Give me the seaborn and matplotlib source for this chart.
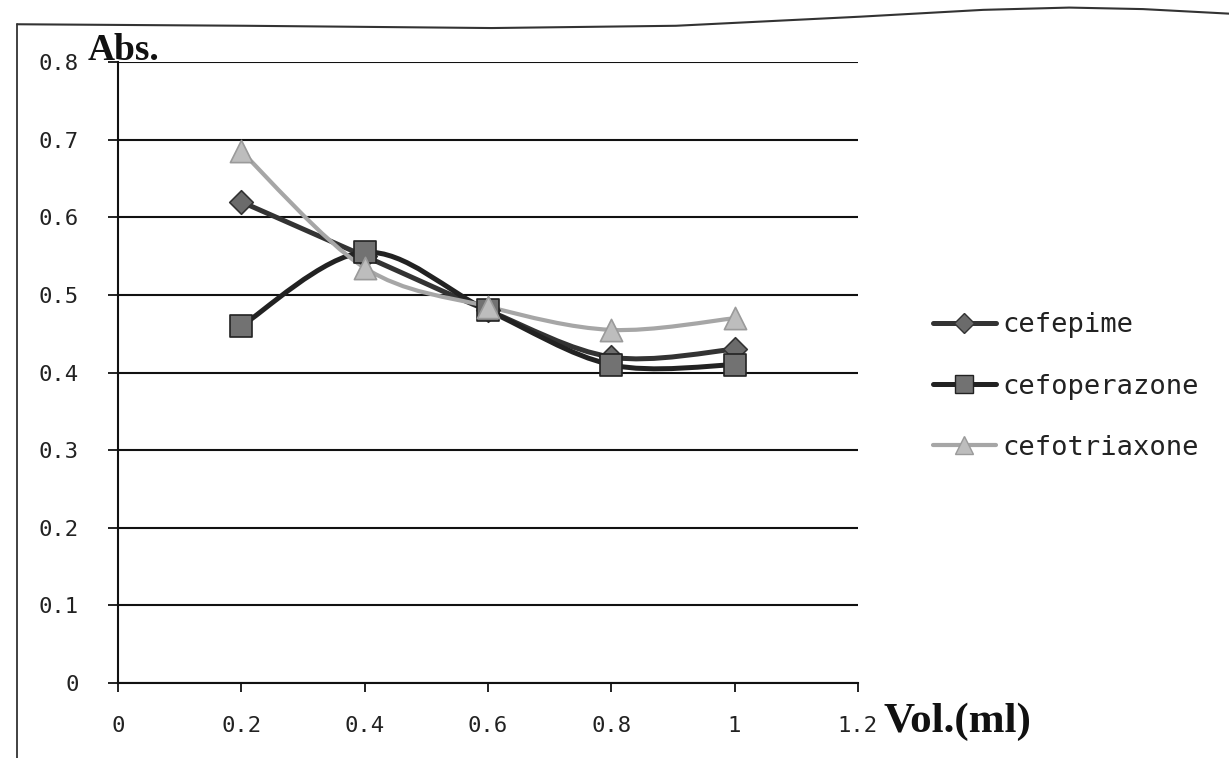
import matplotlib
matplotlib.use("Agg")
import numpy as np
import pandas as pd
import seaborn as sns
import matplotlib.pyplot as plt
from matplotlib.path import Path
from matplotlib.patches import PathPatch
from matplotlib.lines import Line2D

# Absorbance vs. reagent volume
volume = [0.2, 0.4, 0.6, 0.8, 1.0]
cefepime = [0.62, 0.55, 0.48, 0.42, 0.43]
cefoperazone = [0.46, 0.555, 0.48, 0.41, 0.41]
cefotriaxone = [0.685, 0.535, 0.485, 0.455, 0.47]
series_names = ["cefepime", "cefoperazone", "cefotriaxone"]
x_ticks = [0, 0.2, 0.4, 0.6, 0.8, 1.0, 1.2]
x_tick_labels = ["0", "0.2", "0.4", "0.6", "0.8", "1", "1.2"]
y_ticks = [0, 0.1, 0.2, 0.3, 0.4, 0.5, 0.6, 0.7, 0.8]
y_tick_labels = ["0", "0.1", "0.2", "0.3", "0.4", "0.5", "0.6", "0.7", "0.8"]

df = pd.DataFrame({
    "Vol": volume * 3,
    "Abs": cefepime + cefoperazone + cefotriaxone,
    "drug": [n for n in series_names for _ in volume],
})

styles = {
    "cefepime": dict(line="#333333", lw=3.6, marker="D", face="#6b6b6b", edge="#333333", ms=12),
    "cefoperazone": dict(line="#222222", lw=3.6, marker="s", face="#727272", edge="#222222", ms=16),
    "cefotriaxone": dict(line="#a6a6a6", lw=3.0, marker="^", face="#bdbdbd", edge="#9a9a9a", ms=16),
}

sns.set_theme(style="white")
fig = plt.figure(figsize=(12.29, 7.58), dpi=100)
ax = fig.add_axes([0.096, 0.099, 0.602, 0.819])


def smooth_path(xs, ys):
    """Smoothed line: cubic Bezier segments passing through every point."""
    pts = np.column_stack([xs, ys]).astype(float)
    ext = np.vstack([pts[0], pts, pts[-1]])
    verts = [tuple(pts[0])]
    codes = [Path.MOVETO]
    for i in range(len(pts) - 1):
        p0, p1, p2, p3 = ext[i], ext[i + 1], ext[i + 2], ext[i + 3]
        c1 = p1 + (p2 - p0) / 6.0
        c2 = p2 - (p3 - p1) / 6.0
        verts += [tuple(c1), tuple(c2), tuple(p2)]
        codes += [Path.CURVE4] * 3
    return Path(verts, codes)


for name in series_names:
    st = styles[name]
    sub = df[df["drug"] == name]
    ax.add_patch(PathPatch(smooth_path(sub["Vol"], sub["Abs"]), fill=False,
                           edgecolor=st["line"], lw=st["lw"], zorder=3,
                           capstyle="round", joinstyle="round"))
    sns.scatterplot(data=sub, x="Vol", y="Abs", ax=ax, marker=st["marker"],
                    s=st["ms"] ** 2, color=st["face"], edgecolor=st["edge"],
                    linewidth=1.2, zorder=4, legend=False)

ax.set_xlim(0, 1.2)
ax.set_ylim(0, 0.8)
ax.set_xticks(x_ticks)
ax.set_xticklabels(x_tick_labels)
ax.set_yticks(y_ticks)
ax.set_yticklabels(y_tick_labels)
ax.set_xlabel("")
ax.set_ylabel("")
ax.yaxis.grid(True, color="#111111", lw=1.5)
ax.xaxis.grid(False)
for side in ["top", "right"]:
    ax.spines[side].set_visible(False)
for side in ["left", "bottom"]:
    ax.spines[side].set_color("#111111")
    ax.spines[side].set_linewidth(1.5)
ax.tick_params(axis="x", bottom=True, direction="out", length=6.5, width=1.3,
               color="#111111", pad=17, labelsize=16, labelcolor="#222222")
ax.tick_params(axis="y", left=True, direction="out", length=7, width=1.3,
               color="#111111", pad=21, labelsize=16, labelcolor="#222222")
for lab in ax.get_xticklabels() + ax.get_yticklabels():
    lab.set_family("DejaVu Sans Mono")

fig.text(0.071, 0.921, "Abs.", family="Liberation Serif", weight="bold",
         fontsize=27, color="#111111", ha="left", va="baseline")
fig.text(0.719, 0.0475, "Vol.(ml)", family="Liberation Serif", weight="bold",
         fontsize=31, color="#111111", ha="left", va="center")

handles = [
    Line2D([0], [0], color=styles[n]["line"], lw=styles[n]["lw"],
           marker=styles[n]["marker"], markersize=styles[n]["ms"] * 0.85,
           markerfacecolor=styles[n]["face"], markeredgecolor=styles[n]["edge"])
    for n in series_names
]
leg = fig.legend(handles, series_names, loc="center left",
                 bbox_to_anchor=(0.744, 0.49), frameon=False,
                 handlelength=2.3, handletextpad=0.25, labelspacing=1.3,
                 borderpad=0.2,
                 prop={"family": "DejaVu Sans Mono", "size": 19.5})
for t in leg.get_texts():
    t.set_color("#222222")

# page frame around the chart area
fig.add_artist(Line2D([0.014, 0.014], [0.0, 0.968], color="#333333", lw=1.3,
                      transform=fig.transFigure))
fig.add_artist(Line2D([0.014, 0.2, 0.4, 0.55, 0.7, 0.8, 0.87, 0.93, 1.0],
                      [0.968, 0.966, 0.963, 0.966, 0.978, 0.987, 0.99, 0.988, 0.982],
                      color="#333333", lw=1.5, transform=fig.transFigure))

fig.savefig("out.png", dpi=100, facecolor="white")
